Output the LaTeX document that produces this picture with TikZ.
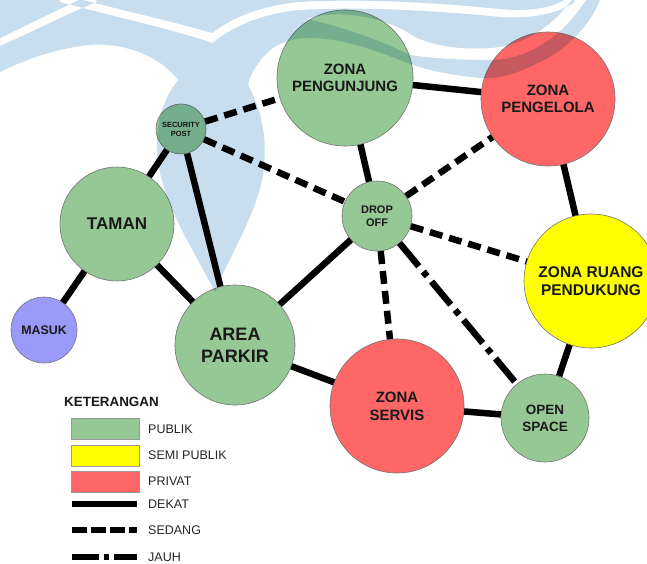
\documentclass[tikz,border=0pt]{standalone}
\usepackage{fontspec}
\setmainfont{Liberation Sans}
\definecolor{pub}{HTML}{96C896}
\definecolor{semi}{HTML}{FFFF00}
\definecolor{priv}{HTML}{FF6666}
\definecolor{masukc}{HTML}{9A9AFA}
\definecolor{wm}{HTML}{C8DEEE}
\begin{document}
\begin{tikzpicture}[x=1pt,y=-1pt,
  zone/.style={circle, draw=black!55, line width=0.6pt, inner sep=0pt, align=center, text=black!90},
  dekat/.style={line width=6.5pt},
  sedang/.style={line width=6.5pt, dash pattern=on 13pt off 7pt},
  jauh/.style={line width=6.5pt, dash pattern=on 30pt off 7pt on 6pt off 7pt},
  swatch/.style={rectangle, draw=black!40, line width=0.6pt, minimum width=68pt, minimum height=21pt, inner sep=0pt},
  legtext/.style={anchor=west, inner sep=0pt, font=\fontsize{12.5}{14}\selectfont, text=black!85},
  legline/.style={line width=5.5pt}
]
\useasboundingbox (0,0) rectangle (647,564);
\fill[white] (0,0) rectangle (647,564);

% zones
\node[zone, fill=pub, minimum size=136pt, font=\bfseries\fontsize{15}{17}\selectfont] (zp) at (345,78) {ZONA\\PENGUNJUNG};
\node[zone, fill=priv, minimum size=134pt, font=\bfseries\fontsize{15}{17}\selectfont] (zpg) at (548,99) {ZONA\\PENGELOLA};
\node[zone, fill=pub, minimum size=50pt, font=\bfseries\fontsize{7.5}{9}\selectfont] (sec) at (181,129) {SECURITY\\POST};
\node[zone, fill=pub, minimum size=70pt, font=\bfseries\fontsize{11}{13}\selectfont] (drop) at (377,216) {DROP\\OFF};
\node[zone, fill=pub, minimum size=114pt, font=\bfseries\fontsize{17}{19}\selectfont] (taman) at (117,224) {TAMAN};
\node[zone, fill=masukc, minimum size=66pt, font=\bfseries\fontsize{12.4}{14}\selectfont] (masuk) at (44,330) {MASUK};
\node[zone, fill=pub, minimum size=120pt, font=\bfseries\fontsize{18}{22}\selectfont] (parkir) at (235,345) {AREA\\PARKIR};
\node[zone, fill=priv, minimum size=134pt, font=\bfseries\fontsize{15}{18}\selectfont] (servis) at (397,406) {ZONA\\SERVIS};
\node[zone, fill=pub, minimum size=88pt, font=\bfseries\fontsize{13.5}{17}\selectfont] (open) at (545,418) {OPEN\\SPACE};
\node[zone, fill=semi, minimum size=134pt, font=\bfseries\fontsize{15.5}{18}\selectfont] (zrp) at (591,281) {ZONA RUANG\\PENDUKUNG};

% connectors
\draw[dekat] (zp) -- (zpg);
\draw[dekat] (zp) -- (drop);
\draw[dekat] (zpg) -- (zrp);
\draw[dekat] (zrp) -- (open);
\draw[dekat] (open) -- (servis);
\draw[dekat] (servis) -- (parkir);
\draw[dekat] (parkir) -- (drop);
\draw[dekat] (parkir) -- (taman);
\draw[dekat] (parkir) -- (sec);
\draw[dekat] (taman) -- (sec);
\draw[dekat] (taman) -- (masuk);
\draw[sedang] (sec) -- (zp);
\draw[sedang] (sec) -- (drop);
\draw[sedang] (drop) -- (zpg);
\draw[sedang] (drop) -- (zrp);
\draw[sedang] (drop) -- (servis);
\draw[jauh] (drop) -- (open);

% legend
\node[anchor=west, inner sep=0pt, font=\bfseries\fontsize{13.4}{15}\selectfont, text=black!90] (leg) at (64,402) {KETERANGAN};
\node[swatch, fill=pub] (s1) at (105,429) {};
\node[swatch, fill=semi] (s2) at (105,456) {};
\node[swatch, fill=priv] (s3) at (105,482) {};
\node[legtext] (t1) at (148,429) {PUBLIK};
\node[legtext] (t2) at (148,455) {SEMI PUBLIK};
\node[legtext] (t3) at (148,481) {PRIVAT};
\coordinate (d1) at (72,504); \coordinate (d2) at (137,504);
\coordinate (e1) at (72,530); \coordinate (e2) at (137,530);
\coordinate (f1) at (72,557); \coordinate (f2) at (137,557);
\draw[legline] (d1) -- (d2);
\draw[legline, dash pattern=on 14.5pt off 4.5pt] (e1) -- (e2);
\draw[legline, dash pattern=on 27pt off 5pt on 5pt off 5pt] (f1) -- (f2);
\node[legtext] (t4) at (148,504) {DEKAT};
\node[legtext] (t5) at (148,530) {SEDANG};
\node[legtext] (t6) at (148,557) {JAUH};

% watermark (multiplied over the drawing, white stripes left out by an even-odd clip)
\begin{scope}[even odd rule]
\clip (-10,-10) rectangle (660,600)
  (60,-6) .. controls (120,10) and (175,22) .. (212,33)
    .. controls (230,20) and (255,6) .. (300,2)
    .. controls (350,-1) and (420,1) .. (500,9)
    .. controls (530,12) and (555,8) .. (570,-4)
    -- (575,2) .. controls (558,14) and (530,19) .. (500,17)
    .. controls (420,9) and (350,7) .. (300,10)
    .. controls (258,14) and (232,28) .. (212,43)
    .. controls (175,30) and (120,18) .. (60,2) -- cycle
  (306,19) .. controls (340,8) and (388,18) .. (415,37)
    .. controls (435,46) and (460,50) .. (490,48)
    .. controls (525,46) and (555,25) .. (576,-6)
    -- (586,0) .. controls (560,40) and (525,60) .. (490,60)
    .. controls (455,60) and (430,58) .. (410,55)
    .. controls (380,40) and (340,26) .. (306,19) -- cycle
  (0,38) .. controls (30,24) and (60,8) .. (93,-6) -- (97,2) .. controls (62,16) and (32,32) .. (0,46) -- cycle;
\fill[wm, blend mode=multiply] (0,0) -- (600,0)
  .. controls (588,30) and (562,52) .. (540,62)
  .. controls (520,72) and (500,80) .. (480,78)
  .. controls (450,75) and (425,70) .. (405,62)
  .. controls (375,50) and (340,38) .. (310,38)
  .. controls (290,38) and (275,44) .. (265,55)
  .. controls (256,65) and (250,75) .. (248,85)
  .. controls (262,110) and (268,140) .. (263,175)
  .. controls (256,215) and (230,255) .. (215,292)
  .. controls (200,262) and (176,225) .. (165,190)
  .. controls (154,160) and (154,125) .. (166,100)
  .. controls (170,90) and (175,85) .. (178,80)
  .. controls (160,55) and (120,42) .. (90,45)
  .. controls (55,48) and (20,62) .. (0,72) -- cycle;
\end{scope}
\end{tikzpicture}
\end{document}
